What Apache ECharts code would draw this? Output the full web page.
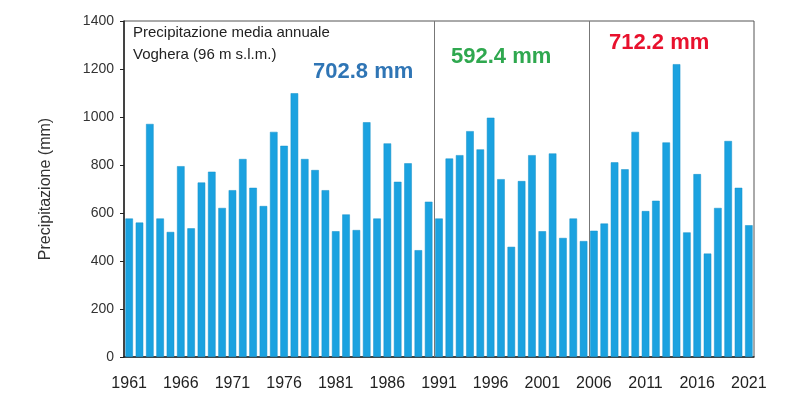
<!DOCTYPE html>
<html>
<head>
<meta charset="utf-8">
<script src="https://cdn.jsdelivr.net/npm/echarts@6/dist/echarts.min.js"></script>
<style>
  html, body { margin: 0; padding: 0; background: #fff; }
  #chart { width: 792px; height: 418px; }
</style>
</head>
<body>
<div id="chart"></div>
<script>
// annual precipitation, Voghera
var years = [];
for (var y = 1961; y <= 2021; y++) years.push(String(y));

var rain = [
  577, 560, 971, 577, 521, 795, 536, 727, 772, 621,
  695, 825, 705, 629, 938, 880, 1099, 825, 779, 695,
  524, 594, 529, 978, 577, 890, 730, 807, 445, 647,
  577, 827, 841, 941, 865, 997, 741, 459, 733, 841,
  524, 848, 496, 577, 483, 526, 556, 811, 782, 938,
  608, 651, 894, 1220, 519, 762, 431, 621, 900, 705,
  549
];

// period boundaries (first year of each new period) and period means
var periodStarts = [1991, 2006];
var periodMeans = ['702.8 mm', '592.4 mm', '712.2 mm'];
var periodColors = ['#2f75b5', '#2fa84f', '#e8112d'];

var chart = echarts.init(document.getElementById('chart'));

var option = {
  backgroundColor: '#fff',
  animation: false,
  textStyle: { fontFamily: 'Liberation Sans' },
  grid: {
    left: 124, right: 38, top: 21, bottom: 61,
    show: true,
    borderColor: '#555',
    borderWidth: 1
  },
  xAxis: [{
    type: 'category',
    data: years,
    boundaryGap: true,
    axisLine: { lineStyle: { color: '#222', width: 1.5 } },
    axisTick: { interval: 4, length: 4, lineStyle: { color: '#222' } },
    axisLabel: { interval: 4, fontSize: 16, color: '#222', margin: 19 },
    splitLine: { show: false }
  }, {
    // hidden value axis used to put the period dividers between years
    type: 'value',
    min: 1960.5,
    max: 2021.5,
    show: false
  }],
  yAxis: {
    type: 'value',
    min: 0,
    max: 1400,
    interval: 200,
    name: 'Precipitazione (mm)',
    nameLocation: 'middle',
    nameGap: 70,
    nameTextStyle: { fontSize: 16, color: '#333' },
    axisLine: { show: true, lineStyle: { color: '#222', width: 1.5 } },
    axisTick: { show: true, length: 4, lineStyle: { color: '#222' } },
    axisLabel: { fontSize: 14, color: '#333', margin: 10, formatter: function (v) { return String(v); } },
    splitLine: { show: false }
  },
  series: [{
    type: 'bar',
    data: rain,
    barCategoryGap: '27%',
    itemStyle: { color: '#1ba2e0', borderColor: '#1590c8', borderWidth: 0.5 }
  }, {
    type: 'line',
    xAxisIndex: 1,
    data: [],
    silent: true,
    markLine: {
      symbol: 'none',
      silent: true,
      label: { show: false },
      lineStyle: { color: '#777', width: 1, type: 'solid' },
      data: periodStarts.map(function (s) { return { xAxis: s - 0.5 }; })
    }
  }],
  graphic: [
    { type: 'text', left: 133, top: 25,
      style: { text: 'Precipitazione media annuale', fontSize: 15, fill: '#222', fontFamily: 'Liberation Sans' } },
    { type: 'text', left: 133, top: 47,
      style: { text: 'Voghera (96 m s.l.m.)', fontSize: 15, fill: '#222', fontFamily: 'Liberation Sans' } },
    { type: 'text', left: 313, top: 61,
      style: { text: periodMeans[0], fontSize: 22, fontWeight: 'bold', fill: periodColors[0], fontFamily: 'Liberation Sans' } },
    { type: 'text', left: 451, top: 46,
      style: { text: periodMeans[1], fontSize: 22, fontWeight: 'bold', fill: periodColors[1], fontFamily: 'Liberation Sans' } },
    { type: 'text', left: 609, top: 32,
      style: { text: periodMeans[2], fontSize: 22, fontWeight: 'bold', fill: periodColors[2], fontFamily: 'Liberation Sans' } }
  ]
};

chart.setOption(option);
</script>
</body>
</html>
